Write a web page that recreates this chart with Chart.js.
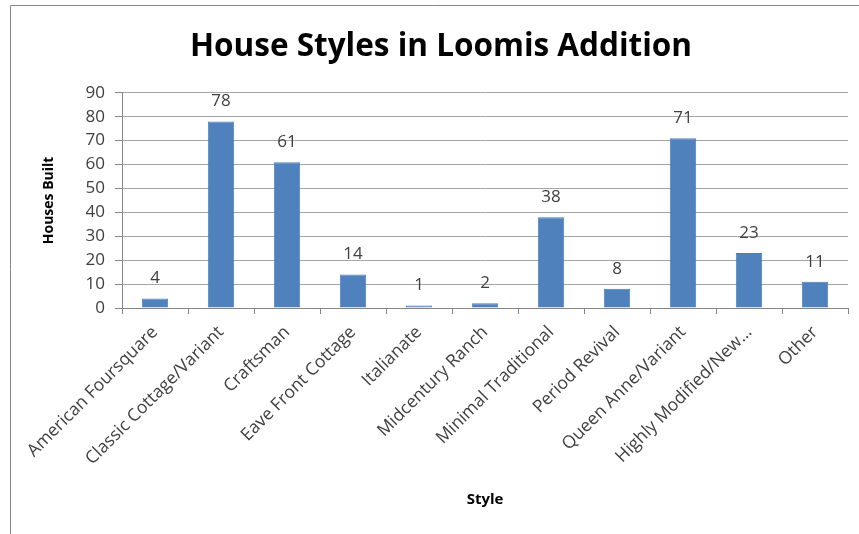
<!DOCTYPE html>
<html>
<head>
<meta charset="utf-8">
<script src="https://cdn.jsdelivr.net/npm/chart.js@4"></script>
<style>
  html, body { margin: 0; padding: 0; background: #fff; }
  #wrap { position: relative; width: 859px; height: 534px; }
</style>
</head>
<body>
<div id="wrap"><canvas id="chart" width="859" height="534"></canvas></div>
<script>
// House styles counts
const styles = [
  'American Foursquare', 'Classic Cottage/Variant', 'Craftsman', 'Eave Front Cottage',
  'Italianate', 'Midcentury Ranch', 'Minimal Traditional', 'Period Revival',
  'Queen Anne/Variant', 'Highly Modified/New…', 'Other'
]
const housesBuilt = [4, 78, 61, 14, 1, 2, 38, 8, 71, 23, 11]
const yTicks = [0, 10, 20, 30, 40, 50, 60, 70, 80, 90]

const FONT = "'Open Sans', sans-serif"
const TEXT = '#404040'

// value labels above each bar
const barLabels = {
  id: 'barLabels',
  afterDatasetsDraw(chart) {
    const ctx = chart.ctx
    const meta = chart.getDatasetMeta(0)
    ctx.save()
    ctx.font = `17px ${FONT}`
    ctx.fillStyle = TEXT
    ctx.textAlign = 'center'
    ctx.textBaseline = 'middle'
    meta.data.forEach((bar, i) => {
      ctx.fillText(String(housesBuilt[i]), bar.x, bar.y - 20)
    })
    ctx.restore()
  }
}

// chart frame (top and left edge of the outer box)
const frame = {
  id: 'frame',
  beforeDraw(chart) {
    const ctx = chart.ctx
    ctx.save()
    ctx.strokeStyle = '#868686'
    ctx.lineWidth = 1
    ctx.beginPath()
    ctx.moveTo(10.5, 534)
    ctx.lineTo(10.5, 5.5)
    ctx.lineTo(859, 5.5)
    ctx.stroke()
    ctx.restore()
  }
}

new Chart(document.getElementById('chart'), {
  type: 'bar',
  data: {
    labels: styles,
    datasets: [{
      label: 'Houses Built',
      data: housesBuilt,
      backgroundColor: '#4F81BD',
      borderColor: '#4A7EBB',
      borderWidth: 1,
      categoryPercentage: 1,
      barPercentage: 0.4
    }]
  },
  options: {
    responsive: false,
    animation: false,
    layout: { padding: { left: 34, right: 11, top: 0, bottom: 0 } },
    plugins: {
      legend: { display: false },
      tooltip: { enabled: false },
      title: {
        display: true,
        text: 'House Styles in Loomis Addition',
        color: '#000',
        font: { family: FONT, size: 31.5, weight: 'bold', lineHeight: 1.2 },
        padding: { top: 28, bottom: 27 }
      }
    },
    scales: {
      x: {
        grid: {
          offset: true,
          drawOnChartArea: false,
          drawTicks: true,
          tickLength: 6,
          color: '#868686'
        },
        border: { color: '#868686' },
        ticks: {
          color: TEXT,
          font: { family: FONT, size: 17.5 },
          minRotation: 45,
          maxRotation: 45,
          autoSkip: false,
          padding: 8
        },
        title: {
          display: true,
          text: 'Style',
          color: '#000',
          font: { family: FONT, size: 15, weight: 'bold' },
          padding: { top: 4, bottom: 25 }
        },
        afterFit(scale) { scale.height = 226 }
      },
      y: {
        min: 0,
        max: 90,
        afterBuildTicks(scale) { scale.ticks = yTicks.map(v => ({ value: v })) },
        grid: {
          color: '#a6a6a6',
          drawTicks: true,
          tickLength: 7,
          tickColor: '#868686'
        },
        border: { color: '#868686' },
        ticks: {
          color: TEXT,
          font: { family: FONT, size: 17 },
          padding: 10
        },
        title: {
          display: true,
          text: 'Houses Built',
          color: '#000',
          font: { family: FONT, size: 14, weight: 'bold' },
          padding: { top: 7, bottom: 4 }
        },
        afterFit(scale) { scale.width = 88 }
      }
    }
  },
  plugins: [frame, barLabels]
})
</script>
</body>
</html>
